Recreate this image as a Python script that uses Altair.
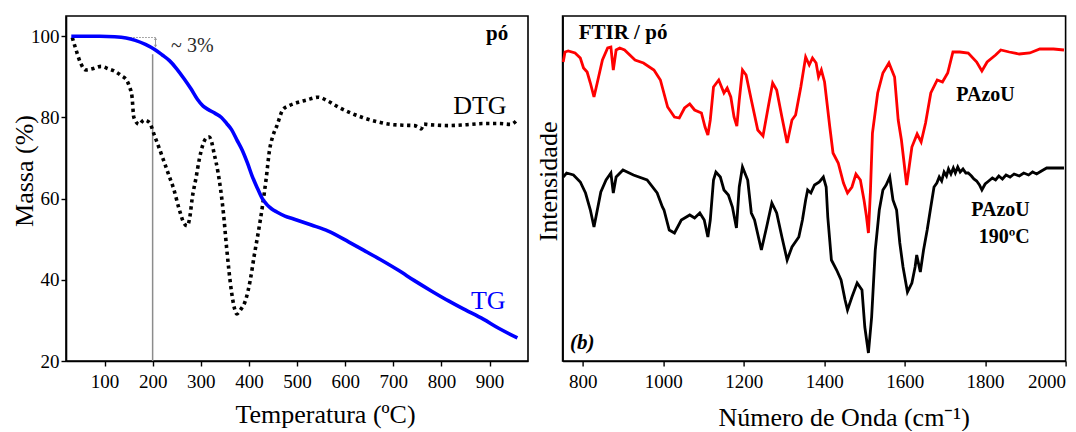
import altair as alt
import pandas as pd

SERIF = "Liberation Serif"

# ---- TG / DTG (left panel): (temperature ºC, mass %) ----
tg_points = [(31, 100), (60, 100), (90, 100), (121, 99.9), (145, 99.6), (164, 99.0),
             (185, 98.0), (205, 96.7), (220, 95.4), (235, 94.0), (250, 92.0), (265, 89.6),
             (280, 87.0), (293, 84.5), (305, 82.8), (315, 82.0), (330, 81.0), (343, 80.0),
             (354, 78.5), (364, 77.0), (375, 74.5), (386, 72.0), (397, 68.8), (407, 65.5),
             (418, 62.5), (428, 60.0), (437, 58.6), (447, 57.5), (458, 56.7), (475, 55.7),
             (493, 55.0), (530, 53.5), (565, 52.0), (608, 49.3), (640, 47.2), (673, 45.0),
             (710, 42.4), (744, 39.8), (780, 37.2), (815, 34.8), (850, 32.6), (887, 30.3),
             (920, 28.0), (958, 25.7)]

dtg_points = [(33, 99.7), (40, 97.0), (50, 93.5), (61, 91.7), (75, 92.0), (93, 92.6),
              (108, 92.0), (121, 91.4), (135, 90.3), (147, 89.0), (152, 87.5), (157, 85.3),
              (161, 80.0), (172, 78.3), (182, 79.4), (193, 78.8), (204, 75.5), (222, 69.7),
              (233, 66.0), (244, 62.3), (255, 57.5), (265, 54.0), (272, 53.3), (278, 56.0),
              (282, 59.9), (290, 65.0), (297, 69.7), (305, 73.5), (312, 75.0), (318, 75.2),
              (321, 74.6), (328, 71.0), (336, 66.4), (347, 56.6), (354, 47.6), (364, 37.0),
              (370, 33.0), (375, 31.6), (382, 32.5), (394, 35.3), (403, 40.0), (411, 45.9),
              (420, 52.0), (428, 58.0), (436, 65.0), (443, 72.0), (450, 75.5), (458, 77.9),
              (471, 82.0), (485, 83.0), (501, 83.7), (520, 84.3), (544, 85.0), (565, 84.0),
              (587, 82.5), (610, 81.2), (636, 80.0), (665, 79.0), (694, 78.3), (720, 78.1),
              (744, 78.0), (752, 77.6), (758, 77.2), (764, 78.4), (769, 78.3), (790, 78.1),
              (815, 78.0), (850, 78.2), (887, 78.5), (920, 78.5), (944, 78.3), (958, 79.5)]

# ---- FTIR (right panel): (wavenumber cm-1, intensity a.u.) ----
pazou_points = [(751.5, 299), (756, 309), (764, 310), (781, 308), (794, 303), (802, 293),
                (811, 289), (819, 278), (828, 264), (836, 278), (849, 301), (862, 313),
                (870, 314), (876, 291), (883, 311), (892, 313), (904, 311), (930, 301),
                (951, 298), (977, 291), (993, 281), (1011, 254), (1028, 244), (1040, 243),
                (1053, 253), (1066, 257), (1078, 251), (1095, 248), (1104, 234), (1111, 226),
                (1117, 241), (1125, 274), (1138, 281), (1151, 268), (1159, 273), (1168, 264),
                (1176, 244), (1183, 235), (1189, 261), (1197, 291), (1206, 286), (1219, 261),
                (1235, 231), (1248, 225), (1261, 254), (1272, 278), (1282, 271), (1295, 244),
                (1308, 218), (1320, 241), (1329, 246), (1342, 274), (1354, 304), (1363, 296),
                (1371, 303), (1380, 298), (1386, 284), (1393, 291), (1401, 279), (1414, 234),
                (1422, 208), (1435, 198), (1448, 178), (1458, 168), (1469, 174), (1479, 187),
                (1490, 181), (1499, 161), (1505, 145), (1510, 128), (1515, 170), (1520, 228),
                (1533, 268), (1546, 288), (1561, 298), (1575, 284), (1584, 241), (1592, 221),
                (1605, 176), (1618, 214), (1631, 227), (1641, 219), (1652, 238), (1665, 268),
                (1681, 281), (1694, 279), (1707, 288), (1720, 309), (1737, 309), (1758, 308),
                (1779, 299), (1792, 290), (1805, 299), (1826, 306), (1839, 311), (1860, 309),
                (1885, 307), (1911, 308), (1936, 312), (1970, 312), (1996, 311)]

pazou190_points = [(751.5, 184), (760, 188), (777, 186), (794, 179), (807, 168), (819, 151),
                   (828, 134), (845, 169), (858, 181), (870, 188), (876, 168), (883, 184),
                   (900, 191), (926, 186), (960, 181), (985, 168), (998, 154), (1002, 151),
                   (1015, 131), (1028, 128), (1045, 141), (1066, 146), (1078, 143), (1091, 148),
                   (1102, 141), (1111, 124), (1117, 141), (1125, 181), (1131, 189), (1142, 184),
                   (1151, 171), (1162, 166), (1172, 154), (1182, 133), (1189, 174), (1197, 194),
                   (1210, 181), (1219, 148), (1227, 141), (1244, 111), (1257, 134), (1270, 158),
                   (1282, 148), (1295, 124), (1308, 101), (1320, 114), (1337, 124), (1346, 141),
                   (1354, 161), (1359, 171), (1367, 168), (1376, 176), (1388, 179), (1398, 184),
                   (1405, 174), (1409, 144), (1418, 101), (1431, 91), (1442, 81), (1452, 61),
                   (1458, 51), (1469, 64), (1482, 78), (1494, 71), (1501, 34), (1510, 8),
                   (1518, 44), (1527, 111), (1537, 151), (1546, 171), (1554, 176), (1563, 184),
                   (1571, 161), (1580, 151), (1588, 118), (1596, 94), (1607, 69), (1618, 78),
                   (1626, 94), (1630, 106), (1639, 89), (1647, 111), (1656, 131), (1665, 154),
                   (1673, 174), (1680, 178), (1686, 184), (1692, 180), (1698, 189), (1704, 185),
                   (1709, 192), (1715, 187), (1721, 193), (1726, 188), (1732, 194), (1738, 189),
                   (1745, 192), (1752, 188), (1758, 188), (1766, 185), (1772, 182), (1779, 180),
                   (1786, 176), (1792, 171), (1800, 177), (1809, 180), (1818, 183), (1826, 181),
                   (1834, 185), (1843, 182), (1852, 186), (1862, 184), (1872, 187), (1885, 185),
                   (1896, 188), (1908, 186), (1918, 189), (1928, 187), (1940, 190), (1953, 193),
                   (1970, 193), (1996, 193)]

# ---- text annotations ----
left_notes = pd.DataFrame({"T": [880, 897.5], "M": [82.8, 34.8], "label": ["DTG", "TG"],
                           "c": ["black", "blue"]})
right_labels = pd.DataFrame({"wn": [1801, 1911, 1911], "I": [266, 151, 124],
                             "label": ["PAzoU", "PAzoU", "190ºC"],
                             "al": ["center", "right", "right"]})

tg = pd.DataFrame(tg_points, columns=["T", "M"])
dtg = pd.DataFrame(dtg_points, columns=["T", "M"])
red = pd.DataFrame(pazou_points, columns=["wn", "I"])
blk = pd.DataFrame(pazou190_points, columns=["wn", "I"])

# ---------------- left panel ----------------
xl = alt.X("T:Q", scale=alt.Scale(domain=[20, 980], nice=False, zero=False),
           axis=alt.Axis(values=list(range(100, 1000, 100)), title="Temperatura (ºC)",
                         titleX=259, titleY=53, titleBaseline="middle", labelPadding=6))
yl = alt.Y("M:Q", scale=alt.Scale(domain=[20, 105], nice=False, zero=False),
           axis=alt.Axis(values=[20, 40, 60, 80, 100], title="Massa (%)", titleX=-41.7,
                         titleY=154.5, titleBaseline="middle", labelPadding=2))

tg_line = alt.Chart(tg).mark_line(color="#0000ff", strokeWidth=3.6, interpolate="monotone").encode(x=xl, y=yl)
dtg_line = alt.Chart(dtg).mark_line(color="black", strokeWidth=3.6, strokeDash=[3.3, 3.6],
                                    strokeCap="butt", interpolate="monotone").encode(x=xl, y=yl)

vline = alt.Chart(pd.DataFrame({"T": [200], "M": [95.6], "M2": [20]})).mark_rule(
    color="#8c8c8c", strokeWidth=1.5).encode(x=xl, y=yl, y2="M2:Q")
hdots = alt.Chart(pd.DataFrame({"T": [141], "T2": [206], "M": [99.7]})).mark_rule(
    color="#8c8c8c", strokeWidth=1, strokeDash=[1.5, 1.5]).encode(x=xl, x2="T2:Q", y=yl)
arrow = alt.Chart(pd.DataFrame({"T": [206], "M": [99.6], "M2": [97.4]})).mark_rule(
    color="#9a9a9a", strokeWidth=1).encode(x=xl, y=yl, y2="M2:Q")
head_up = alt.Chart(pd.DataFrame({"T": [206], "M": [99.4]})).mark_point(
    shape="triangle-up", filled=True, size=10, color="#9a9a9a", opacity=1).encode(x=xl, y=yl)
head_dn = alt.Chart(pd.DataFrame({"T": [206], "M": [97.6]})).mark_point(
    shape="triangle-down", filled=True, size=10, color="#9a9a9a", opacity=1).encode(x=xl, y=yl)

pct = alt.Chart(pd.DataFrame({"T": [282.5], "M": [97.6], "label": ["~ 3%"]})).mark_text(
    font=SERIF, fontSize=20, color="#2a2a2a").encode(x=xl, y=yl, text="label:N")
po = alt.Chart(pd.DataFrame({"T": [916], "M": [100.5], "label": ["pó"]})).mark_text(
    font=SERIF, fontSize=21, fontWeight="bold", color="black").encode(x=xl, y=yl, text="label:N")
notes = alt.Chart(left_notes).mark_text(font=SERIF, fontSize=26).encode(
    x=xl, y=yl, text="label:N", color=alt.Color("c:N", scale=None))

left = alt.layer(vline, hdots, arrow, head_up, head_dn, dtg_line, tg_line, pct, po, notes).properties(
    width=462, height=345)

# ---------------- right panel ----------------
xr = alt.X("wn:Q", scale=alt.Scale(domain=[750, 2000], nice=False, zero=False),
           axis=alt.Axis(values=list(range(800, 2001, 200)), title="Número de Onda (cm⁻¹)",
                         titleX=281, titleY=56, titleBaseline="middle", labelPadding=6,
                         format="d"))
yr = alt.Y("I:Q", scale=alt.Scale(domain=[0, 345], nice=False, zero=False),
           axis=alt.Axis(title="Intensidade", labels=False, ticks=False, titleX=-14.5,
                         titleY=165, titleBaseline="middle"))

red_line = alt.Chart(red).mark_line(color="#ff0000", strokeWidth=2.8).encode(x=xr, y=yr)
blk_line = alt.Chart(blk).mark_line(color="black", strokeWidth=2.8).encode(x=xr, y=yr)

ftir_title = alt.Chart(pd.DataFrame({"wn": [790], "I": [328], "label": ["FTIR / pó"]})).mark_text(
    font=SERIF, fontSize=21, fontWeight="bold", align="left", color="black").encode(
    x=xr, y=yr, text="label:N")
b_label = alt.Chart(pd.DataFrame({"wn": [768.6], "I": [17.7], "label": ["(b)"]})).mark_text(
    font=SERIF, fontSize=21, fontWeight="bold", fontStyle="italic", align="left",
    color="black").encode(x=xr, y=yr, text="label:N")
sample_c = alt.Chart(right_labels[right_labels["al"] == "center"]).mark_text(
    font=SERIF, fontSize=20, fontWeight="bold", color="black").encode(x=xr, y=yr, text="label:N")
sample_r = alt.Chart(right_labels[right_labels["al"] == "right"]).mark_text(
    font=SERIF, fontSize=20, fontWeight="bold", align="right", color="black").encode(
    x=xr, y=yr, text="label:N")

right = alt.layer(blk_line, red_line, ftir_title, b_label, sample_c, sample_r).properties(
    width=503, height=345)

chart = alt.hconcat(left, right, spacing=34.6, bounds="flush").properties(
    padding={"left": 10, "top": 15, "right": 0, "bottom": 0},
    background="white"
).configure_view(stroke="black", strokeWidth=1.6).configure_axis(
    grid=False, domainColor="black", domainWidth=1.6, tickColor="black", tickWidth=1.4,
    tickSize=5, labelFont=SERIF, labelFontSize=19, labelColor="black", titleFont=SERIF,
    titleFontSize=26, titleFontWeight="normal", titleColor="black"
)

chart.save("out.html", embed_options={"renderer": "svg", "actions": False})
